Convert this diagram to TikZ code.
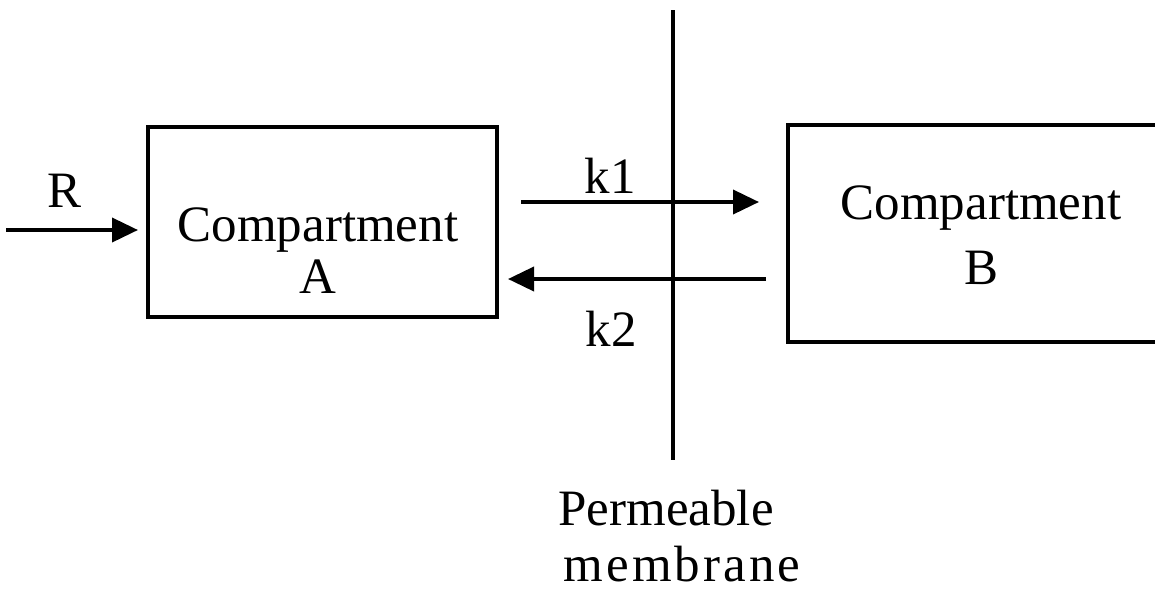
\documentclass[tikz,border=0pt]{standalone}
\usepackage{fontspec}
\setmainfont{Liberation Serif}
\usetikzlibrary{arrows.meta}
\tikzset{
  compbox/.style={draw, line width=3.2pt, inner sep=0pt, minimum width=#1},
  txt/.style={inner sep=0pt, anchor=base, font=\fontsize{51}{60}\selectfont},
  flow/.style={line width=3.8pt, -{Triangle[length=26pt,width=24pt]}},
  membr/.style={line width=3.8pt}
}
\begin{document}
\begin{tikzpicture}[x=1pt,y=-1pt]
\useasboundingbox (0,0) rectangle (1155,590);
% boxes
\node[compbox=349pt, minimum height=190pt] (A) at (322.5,222) {};
\node[compbox=369pt, minimum height=217pt] (B) at (972.5,233.5) {};
% box texts
\node[txt] (A1) at (318,241) {Compartment};
\node[txt] (A2) at (318,293) {A};
\node[txt] (B1) at (981,219) {Compartment};
\node[txt] (B2) at (981,284) {B};
% membrane
\coordinate (mt) at (673,10);
\coordinate (mb) at (673,460);
\draw[membr] (mt) -- (mb);
% arrows
\coordinate (rs) at (6,230);
\coordinate (re) at (138,230);
\draw[flow] (rs) -- (re);
\coordinate (k1s) at (521,202);
\coordinate (k1e) at (759,202);
\draw[flow] (k1s) -- (k1e);
\coordinate (k2s) at (766,279);
\coordinate (k2e) at (508,279);
\draw[flow] (k2s) -- (k2e);
% labels
\node[txt] (R) at (65,207) {R};
\node[txt] (k1) at (610,193) {k1};
\node[txt] (k2) at (611,346) {k2};
\node[txt] (P1) at (666,525) {Permeable};
\node[txt] (P2) at (682,581) {\addfontfeature{LetterSpace=6}membrane};
\end{tikzpicture}
\end{document}
